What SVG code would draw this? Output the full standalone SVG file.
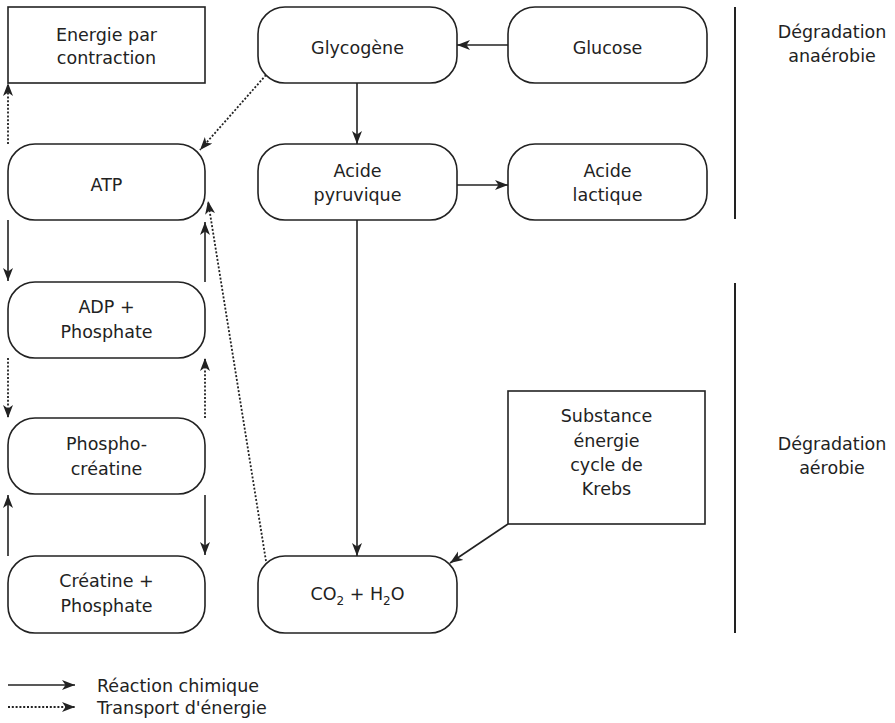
<svg xmlns="http://www.w3.org/2000/svg" width="895" height="723" viewBox="0 0 895 723">
  <style>
    .box { fill: #fff; stroke: #222; stroke-width: 1.6; }
    .lbl { font-family: "DejaVu Sans", "Liberation Sans", sans-serif; font-size: 17.5px; fill: #222; text-anchor: middle; }
    .leg { font-family: "DejaVu Sans", "Liberation Sans", sans-serif; font-size: 17.5px; fill: #222; }
    .sub { font-size: 12px; }
    .rx { fill: none; stroke: #222; stroke-width: 1.6; marker-end: url(#arrow); }
    .tr { fill: none; stroke: #222; stroke-width: 1.8; stroke-dasharray: 2 1.8; marker-end: url(#arrow); }
    .bar { stroke: #222; stroke-width: 2; }
  </style>
  <defs>
    <marker id="arrow" markerUnits="userSpaceOnUse" markerWidth="14" markerHeight="12" refX="13" refY="5" orient="auto">
      <path d="M0,0 L13,5 L0,10 L3.5,5 z" fill="#222"/>
    </marker>
  </defs>

  <!-- section dividers -->
  <g id="dividers">
    <line class="bar" x1="735" y1="7" x2="735" y2="219"/>
    <line class="bar" x1="735" y1="283" x2="735" y2="633"/>
    <text class="lbl" x="832" y="38">Dégradation</text>
    <text class="lbl" x="832" y="62">anaérobie</text>
    <text class="lbl" x="832" y="450">Dégradation</text>
    <text class="lbl" x="832" y="474">aérobie</text>
  </g>

  <!-- nodes -->
  <g id="energie">
    <rect class="box" x="8" y="7" width="197" height="76"/>
    <text class="lbl" x="106.5" y="41">Energie par</text>
    <text class="lbl" x="106.5" y="64">contraction</text>
  </g>
  <g id="atp">
    <rect class="box" x="8" y="144" width="197" height="76" rx="27"/>
    <text class="lbl" x="106.5" y="191">ATP</text>
  </g>
  <g id="adp">
    <rect class="box" x="8" y="282" width="197" height="76" rx="27"/>
    <text class="lbl" x="106.5" y="313">ADP +</text>
    <text class="lbl" x="106.5" y="338">Phosphate</text>
  </g>
  <g id="phosphocreatine">
    <rect class="box" x="8" y="418" width="197" height="76" rx="27"/>
    <text class="lbl" x="106.5" y="450">Phospho-</text>
    <text class="lbl" x="106.5" y="475">créatine</text>
  </g>
  <g id="creatine">
    <rect class="box" x="8" y="556" width="197" height="77" rx="27"/>
    <text class="lbl" x="106.5" y="587">Créatine +</text>
    <text class="lbl" x="106.5" y="612">Phosphate</text>
  </g>
  <g id="glycogene">
    <rect class="box" x="258" y="7" width="199" height="76" rx="27"/>
    <text class="lbl" x="357.5" y="54">Glycogène</text>
  </g>
  <g id="glucose">
    <rect class="box" x="508" y="7" width="199" height="76" rx="27"/>
    <text class="lbl" x="607.5" y="54">Glucose</text>
  </g>
  <g id="pyruvique">
    <rect class="box" x="258" y="144" width="199" height="76" rx="27"/>
    <text class="lbl" x="357.5" y="177">Acide</text>
    <text class="lbl" x="357.5" y="201">pyruvique</text>
  </g>
  <g id="lactique">
    <rect class="box" x="508" y="144" width="199" height="76" rx="27"/>
    <text class="lbl" x="607.5" y="177">Acide</text>
    <text class="lbl" x="607.5" y="201">lactique</text>
  </g>
  <g id="krebs">
    <rect class="box" x="508" y="391" width="197" height="133"/>
    <text class="lbl" x="606.5" y="422">Substance</text>
    <text class="lbl" x="606.5" y="447">énergie</text>
    <text class="lbl" x="606.5" y="471">cycle de</text>
    <text class="lbl" x="606.5" y="495">Krebs</text>
  </g>
  <g id="co2h2o">
    <rect class="box" x="258" y="556" width="199" height="77" rx="27"/>
    <text class="lbl" x="357.5" y="600">CO<tspan class="sub" dy="5">2</tspan><tspan dy="-5"> + H</tspan><tspan class="sub" dy="5">2</tspan><tspan dy="-5">O</tspan></text>
  </g>

  <!-- connectors -->
  <g id="connectors">
    <!-- chemical reactions -->
    <line class="rx" x1="508" y1="45" x2="457" y2="45"/>
    <line class="rx" x1="357" y1="83" x2="357" y2="144"/>
    <line class="rx" x1="457" y1="185" x2="508" y2="185"/>
    <line class="rx" x1="357" y1="220" x2="357" y2="556"/>
    <line class="rx" x1="508" y1="524" x2="450" y2="563"/>
    <line class="rx" x1="8" y1="220" x2="8" y2="281"/>
    <line class="rx" x1="205" y1="282" x2="205" y2="222"/>
    <line class="rx" x1="205" y1="495" x2="205" y2="555"/>
    <line class="rx" x1="8" y1="556" x2="8" y2="495"/>
    <!-- energy transport -->
    <line class="tr" x1="8" y1="144" x2="8" y2="83"/>
    <line class="tr" x1="266" y1="75" x2="200" y2="150"/>
    <line class="tr" x1="266" y1="561" x2="208" y2="201"/>
    <line class="tr" x1="8" y1="358" x2="8" y2="418"/>
    <line class="tr" x1="205" y1="418" x2="205" y2="358"/>
  </g>

  <!-- key -->
  <g id="legend">
    <line class="rx" x1="8" y1="685" x2="75" y2="685"/>
    <line class="tr" x1="8" y1="707" x2="75" y2="707"/>
    <text class="leg" x="97" y="692">Réaction chimique</text>
    <text class="leg" x="97" y="714">Transport d'énergie</text>
  </g>
</svg>
